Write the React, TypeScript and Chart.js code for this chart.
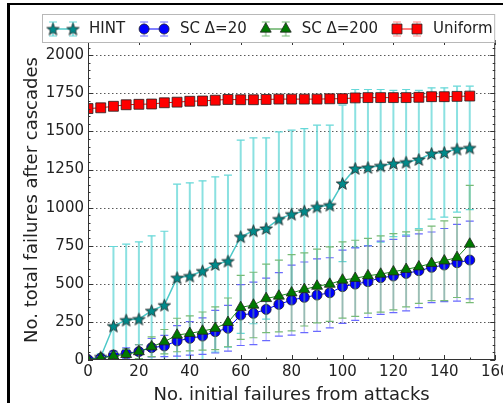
import React, { useEffect, useRef } from "react";
import { Chart, registerables } from "chart.js";

Chart.register(...registerables);

// ---------- data ----------
const attacks = [0, 5, 10, 15, 20, 25, 30, 35, 40, 45, 50, 55, 60, 65, 70, 75, 80, 85, 90, 95, 100, 105, 110, 115, 120, 125, 130, 135, 140, 145, 150];
const hintMean = [2, 20, 223, 262, 269, 323, 360, 540, 551, 584, 627, 649, 809, 848, 863, 925, 957, 977, 1005, 1016, 1159, 1257, 1263, 1274, 1290, 1298, 1316, 1355, 1362, 1384, 1392];
const hintErr = [2, 20, 522, 498, 506, 492, 485, 614, 612, 592, 575, 564, 634, 610, 595, 572, 551, 542, 536, 525, 513, 518, 512, 501, 480, 477, 454, 431, 424, 413, 405];
const sc20Mean = [3, 12, 33, 44, 55, 81, 92, 125, 142, 157, 186, 208, 295, 306, 332, 365, 393, 411, 426, 441, 481, 498, 514, 540, 551, 568, 586, 608, 623, 638, 656];
const sc20Err = [2, 8, 25, 35, 45, 60, 70, 100, 110, 120, 140, 150, 200, 205, 205, 208, 230, 232, 238, 230, 240, 238, 235, 240, 240, 245, 242, 232, 240, 252, 255];
const sc200Mean = [3, 12, 26, 37, 55, 87, 120, 164, 175, 190, 208, 247, 345, 361, 404, 420, 441, 463, 485, 498, 525, 536, 553, 564, 579, 595, 612, 634, 651, 673, 761];
const sc200Err = [2, 8, 25, 35, 45, 65, 80, 110, 115, 125, 140, 160, 210, 215, 225, 235, 250, 240, 242, 245, 250, 250, 245, 250, 250, 246, 240, 245, 262, 263, 385];
const uniformMean = [1650, 1655, 1665, 1675, 1678, 1680, 1688, 1692, 1698, 1700, 1705, 1710, 1708, 1708, 1710, 1712, 1712, 1712, 1712, 1714, 1715, 1720, 1722, 1722, 1722, 1722, 1724, 1728, 1728, 1730, 1732];
const uniformErr = [14, 14, 14, 14, 15, 15, 15, 15, 15, 15, 15, 15, 15, 15, 15, 15, 15, 15, 15, 15, 15, 15, 15, 15, 15, 15, 15, 15, 15, 15, 15];

const seriesLabels = ["HINT", "SC \u0394=20", "SC \u0394=200", "Uniform"];
const xTicks = [0, 20, 40, 60, 80, 100, 120, 140, 160];
const xMinorTicks = [10, 30, 50, 70, 90, 110, 130, 150];
const yTicks = [0, 250, 500, 750, 1000, 1250, 1500, 1750, 2000];
const yMinorStep = 50;
const xTitle = "No. initial failures from attacks";
const yTitle = "No. total failures after cascades";

// ---------- styles ----------
const FONT = '"DejaVu Sans", "Liberation Sans", sans-serif';
const TEXT = "#222";

function makeStar(r: number, fill: string, stroke: string) {
  const c = document.createElement("canvas");
  const s = Math.ceil(2 * r + 4);
  c.width = s;
  c.height = s;
  const g = c.getContext("2d")!;
  g.beginPath();
  for (let k = 0; k < 10; k++) {
    const rr = k % 2 === 0 ? r : r * 0.42;
    const a = -Math.PI / 2 + (k * Math.PI) / 5;
    const px = s / 2 + rr * Math.cos(a);
    const py = s / 2 + rr * Math.sin(a) + 0.6;
    if (k === 0) g.moveTo(px, py);
    else g.lineTo(px, py);
  }
  g.closePath();
  g.fillStyle = fill;
  g.fill();
  g.lineWidth = 0.8;
  g.strokeStyle = stroke;
  g.stroke();
  return c;
}

type Style = {
  line: string;
  fill: string;
  bar: string;
  barWidth: number;
  cap: string;
  marker: string;
  radius: number;
};

const styles: Style[] = [
  { line: "#4cc8c8", fill: "#008b8b", bar: "rgba(100,215,215,0.75)", barWidth: 2, cap: "#66d8d8", marker: "star", radius: 6.5 },
  { line: "#0000ff", fill: "#0000ff", bar: "rgba(120,120,255,0.45)", barWidth: 1.5, cap: "#6a6aff", marker: "circle", radius: 5 },
  { line: "#1a8a1a", fill: "#007a00", bar: "rgba(110,180,110,0.5)", barWidth: 2, cap: "#77bb77", marker: "triangle", radius: 6.3 },
  { line: "#ff0000", fill: "#ff0000", bar: "rgba(255,130,130,0.6)", barWidth: 1.5, cap: "#ff8888", marker: "rect", radius: 7 },
];

function drawMarker(ctx: CanvasRenderingContext2D, kind: string, x: number, y: number, r: number, fill: string, star: HTMLCanvasElement) {
  if (kind === "star") {
    ctx.drawImage(star, x - star.width / 2, y - star.height / 2);
    return;
  }
  ctx.beginPath();
  if (kind === "circle") {
    ctx.arc(x, y, r, 0, Math.PI * 2);
  } else if (kind === "triangle") {
    for (let k = 0; k < 3; k++) {
      const a = (k * 2 * Math.PI) / 3;
      const px = x + Math.sin(a) * r;
      const py = y - Math.cos(a) * r;
      if (k === 0) ctx.moveTo(px, py);
      else ctx.lineTo(px, py);
    }
    ctx.closePath();
  } else {
    const s = Math.SQRT1_2 * r;
    ctx.rect(x - s, y - s, 2 * s, 2 * s);
  }
  ctx.fillStyle = fill;
  ctx.fill();
  ctx.lineWidth = 0.8;
  ctx.strokeStyle = "#222";
  ctx.stroke();
}

export default function App() {
  const ref = useRef<HTMLCanvasElement | null>(null);

  useEffect(() => {
    if (!ref.current) return;
    const star = makeStar(6.5, "#008b8b", "#222");
    const means = [hintMean, sc20Mean, sc200Mean, uniformMean];
    const errs = [hintErr, sc20Err, sc200Err, uniformErr];

    const datasets: any[] = means.map((m, si) => {
      const st = styles[si];
      return {
        label: seriesLabels[si],
        data: attacks.map((x, i) => ({ x, y: m[i] })),
        errors: errs[si],
        barColor: st.bar,
        barWidth: st.barWidth,
        capColor: st.cap,
        capHalf: 4,
        borderColor: st.line,
        borderWidth: si === 0 ? 1.5 : 1,
        backgroundColor: st.fill,
        pointStyle: st.marker === "star" ? star : st.marker,
        pointRadius: st.radius,
        pointBackgroundColor: st.fill,
        pointBorderColor: "#222",
        pointBorderWidth: 0.8,
        tension: 0,
        fill: false,
        clip: 0,
        order: 4 - si,
      };
    });

    const errorBarPlugin = {
      id: "errorBars",
      beforeDatasetDraw(chart: any, args: any) {
        const ds = chart.data.datasets[args.index];
        if (!ds.errors) return;
        const { ctx, chartArea: a } = chart;
        const ys = chart.scales.y;
        ctx.save();
        ctx.beginPath();
        ctx.rect(a.left, a.top, a.right - a.left, a.bottom - a.top);
        ctx.clip();
        args.meta.data.forEach((pt: any, i: number) => {
          const v = ds.data[i].y;
          const e = ds.errors[i];
          const yt = ys.getPixelForValue(v + e);
          const yb = ys.getPixelForValue(v - e);
          ctx.strokeStyle = ds.barColor;
          ctx.lineWidth = ds.barWidth;
          ctx.beginPath();
          ctx.moveTo(pt.x, yt);
          ctx.lineTo(pt.x, yb);
          ctx.stroke();
          ctx.strokeStyle = ds.capColor;
          ctx.lineWidth = 1.2;
          ctx.beginPath();
          ctx.moveTo(pt.x - ds.capHalf, yt);
          ctx.lineTo(pt.x + ds.capHalf, yt);
          ctx.moveTo(pt.x - ds.capHalf, yb);
          ctx.lineTo(pt.x + ds.capHalf, yb);
          ctx.stroke();
        });
        ctx.restore();
      },
    };

    const gridPlugin = {
      id: "dottedGrid",
      beforeDatasetsDraw(chart: any) {
        const { ctx, chartArea: a } = chart;
        const ys = chart.scales.y;
        ctx.save();
        ctx.strokeStyle = "rgba(0,0,0,0.65)";
        ctx.lineWidth = 1;
        ctx.setLineDash([1.5, 2.5]);
        yTicks.forEach((v) => {
          if (v === 0) return;
          const y = Math.round(ys.getPixelForValue(v)) + 0.5;
          ctx.beginPath();
          ctx.moveTo(a.left, y);
          ctx.lineTo(a.right, y);
          ctx.stroke();
        });
        ctx.restore();
      },
    };

    const framePlugin = {
      id: "frameTicks",
      afterDatasetsDraw(chart: any) {
        const { ctx, chartArea: a } = chart;
        const xs = chart.scales.x;
        const ys = chart.scales.y;
        ctx.save();
        ctx.strokeStyle = "#333";
        ctx.lineWidth = 1;
        ctx.strokeRect(a.left + 0.5, a.top + 0.5, a.right - a.left - 1, a.bottom - a.top - 1);
        const tickX = (v: number, len: number) => {
          const x = Math.round(xs.getPixelForValue(v)) + 0.5;
          ctx.beginPath();
          ctx.moveTo(x, a.bottom);
          ctx.lineTo(x, a.bottom - len);
          ctx.moveTo(x, a.top);
          ctx.lineTo(x, a.top + len);
          ctx.stroke();
        };
        const tickY = (v: number, len: number) => {
          const y = Math.round(ys.getPixelForValue(v)) + 0.5;
          ctx.beginPath();
          ctx.moveTo(a.left, y);
          ctx.lineTo(a.left + len, y);
          ctx.moveTo(a.right, y);
          ctx.lineTo(a.right - len, y);
          ctx.stroke();
        };
        xTicks.forEach((v) => tickX(v, 5));
        xMinorTicks.forEach((v) => tickX(v, 2.5));
        yTicks.forEach((v) => tickY(v, 5));
        for (let v = yMinorStep; v < ys.max; v += yMinorStep) {
          if (yTicks.indexOf(v) === -1) tickY(v, 2.5);
        }
        ctx.restore();
      },
      afterDraw(chart: any) {
        const { ctx, chartArea: a } = chart;
        ctx.save();
        // axis titles
        ctx.fillStyle = TEXT;
        ctx.font = `18px ${FONT}`;
        ctx.textAlign = "center";
        ctx.textBaseline = "alphabetic";
        ctx.fillText(xTitle, (a.left + a.right) / 2, 400);
        ctx.save();
        ctx.translate(37, (a.top + a.bottom) / 2);
        ctx.rotate(-Math.PI / 2);
        ctx.fillText(yTitle, 0, 0);
        ctx.restore();

        // legend
        const bx = 42, by = 14, bw = a.right - 42, bh = 29;
        ctx.fillStyle = "#fff";
        ctx.fillRect(bx, by, bw, bh);
        ctx.strokeStyle = "#b8b8b8";
        ctx.lineWidth = 1;
        ctx.strokeRect(bx + 0.5, by + 0.5, bw - 1, bh - 1);
        ctx.font = `15px ${FONT}`;
        ctx.textAlign = "left";
        ctx.textBaseline = "middle";
        const cy = 29;
        let cur = 53;
        seriesLabels.forEach((lab, si) => {
          const st = styles[si];
          const m1 = cur, m2 = cur + 20;
          ctx.strokeStyle = st.line;
          ctx.lineWidth = si === 0 ? 1.5 : 1;
          ctx.beginPath();
          ctx.moveTo(m1, cy);
          ctx.lineTo(m2, cy);
          ctx.stroke();
          [m1, m2].forEach((mx) => {
            ctx.strokeStyle = st.bar;
            ctx.lineWidth = st.barWidth;
            ctx.beginPath();
            ctx.moveTo(mx, cy - 7);
            ctx.lineTo(mx, cy + 7);
            ctx.stroke();
            ctx.strokeStyle = st.cap;
            ctx.lineWidth = 1.2;
            ctx.beginPath();
            ctx.moveTo(mx - 4, cy - 7);
            ctx.lineTo(mx + 4, cy - 7);
            ctx.moveTo(mx - 4, cy + 7);
            ctx.lineTo(mx + 4, cy + 7);
            ctx.stroke();
            drawMarker(ctx, st.marker, mx, cy, st.radius, st.fill, star);
          });
          const tx = m2 + 16;
          ctx.fillStyle = TEXT;
          ctx.fillText(lab, tx, cy + 0.5);
          cur = tx + ctx.measureText(lab).width + 19;
        });
        ctx.restore();
      },
    };

    const chart = new Chart(ref.current, {
      type: "line",
      data: { datasets },
      options: {
        animation: false,
        responsive: false,
        devicePixelRatio: 1,
        layout: { padding: { top: 40, right: 7, left: 0, bottom: 0 } },
        plugins: { legend: { display: false }, tooltip: { enabled: false } },
        scales: {
          x: {
            type: "linear",
            min: 0,
            max: 160,
            afterBuildTicks: (s: any) => {
              s.ticks = xTicks.map((v) => ({ value: v }));
            },
            afterFit: (s: any) => {
              s.height = 43;
              s.paddingLeft = 0;
              s.paddingRight = 0;
            },
            grid: { display: false, drawTicks: false },
            border: { display: false },
            ticks: {
              font: { family: FONT, size: 15 },
              color: TEXT,
              padding: 3,
              maxRotation: 0,
              autoSkip: false,
              callback: (v: any) => String(v),
            },
          },
          y: {
            type: "linear",
            min: 0,
            max: 2100,
            afterBuildTicks: (s: any) => {
              s.ticks = yTicks.map((v) => ({ value: v }));
            },
            afterFit: (s: any) => {
              s.width = 88;
              s.paddingTop = 0;
              s.paddingBottom = 0;
            },
            grid: { display: false, drawTicks: false },
            border: { display: false },
            ticks: {
              font: { family: FONT, size: 15 },
              color: TEXT,
              padding: 4,
              autoSkip: false,
              callback: (v: any) => String(v),
            },
          },
        },
      } as any,
      plugins: [errorBarPlugin, gridPlugin, framePlugin],
    });
    return () => chart.destroy();
  }, []);

  return (
    <div style={{ position: "fixed", left: 0, top: 0, width: 503, height: 403, background: "#fff", overflow: "hidden" }}>
      <canvas ref={ref} width={503} height={403} style={{ width: 503, height: 403, display: "block" }} />
      <div
        style={{
          position: "absolute",
          left: 7,
          top: 3,
          width: 510,
          height: 410,
          borderTop: "2.5px solid #000",
          borderLeft: "3px solid #000",
          pointerEvents: "none",
        }}
      />
    </div>
  );
}
